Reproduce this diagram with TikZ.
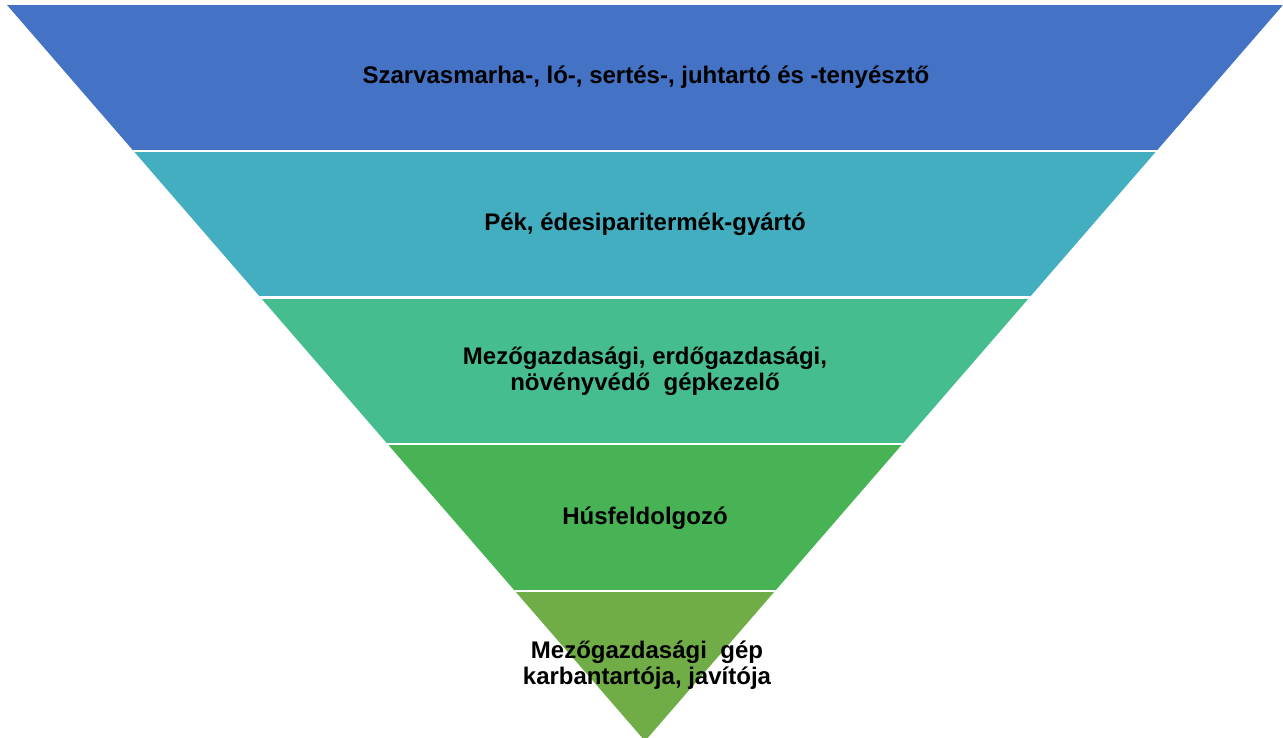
\documentclass[tikz,border=0pt]{standalone}
\usepackage{fontspec}
\setmainfont{Liberation Sans}
\begin{document}
\begin{tikzpicture}[x=1pt,y=-1pt,
  lbl/.style={font=\bfseries\fontsize{24}{25.5}\selectfont,align=center,text=black,inner sep=0pt},
  gap/.style={white,line width=2.8pt}]
\definecolor{cA}{RGB}{68,114,196}
\definecolor{cB}{RGB}{67,174,192}
\definecolor{cC}{RGB}{69,189,142}
\definecolor{cD}{RGB}{72,179,84}
\definecolor{cE}{RGB}{112,173,71}
\useasboundingbox (0,0) rectangle (1283,737);
\coordinate (tl) at (7,5);
\coordinate (tr) at (1283,5);
\coordinate (ap) at (645,741);
\begin{scope}
\clip (tl) -- (tr) -- (ap) -- cycle;
\fill[cA] (0,0) rectangle (1283,151);
\fill[cB] (0,151) rectangle (1283,297.5);
\fill[cC] (0,297.5) rectangle (1283,444);
\fill[cD] (0,444) rectangle (1283,591);
\fill[cE] (0,591) rectangle (1283,745);
\draw[gap] (0,151) -- (1283,151);
\draw[gap] (0,297.5) -- (1283,297.5);
\draw[gap] (0,444) -- (1283,444);
\draw[gap] (0,591) -- (1283,591);
\end{scope}
\node[lbl] (t1) at (646,77) {Szarvasmarha-, ló-, sertés-, juhtartó és -tenyésztő};
\node[lbl] (t2) at (645,224) {Pék, édesiparitermék-gyártó};
\node[lbl] (t3) at (645,371) {Mezőgazdasági, erdőgazdasági,\\növényvédő\ \ gépkezelő};
\node[lbl] (t4) at (645,518) {Húsfeldolgozó};
\node[lbl] (t5) at (647,665) {Mezőgazdasági\ \ gép\\karbantartója, javítója};
\end{tikzpicture}
\end{document}
